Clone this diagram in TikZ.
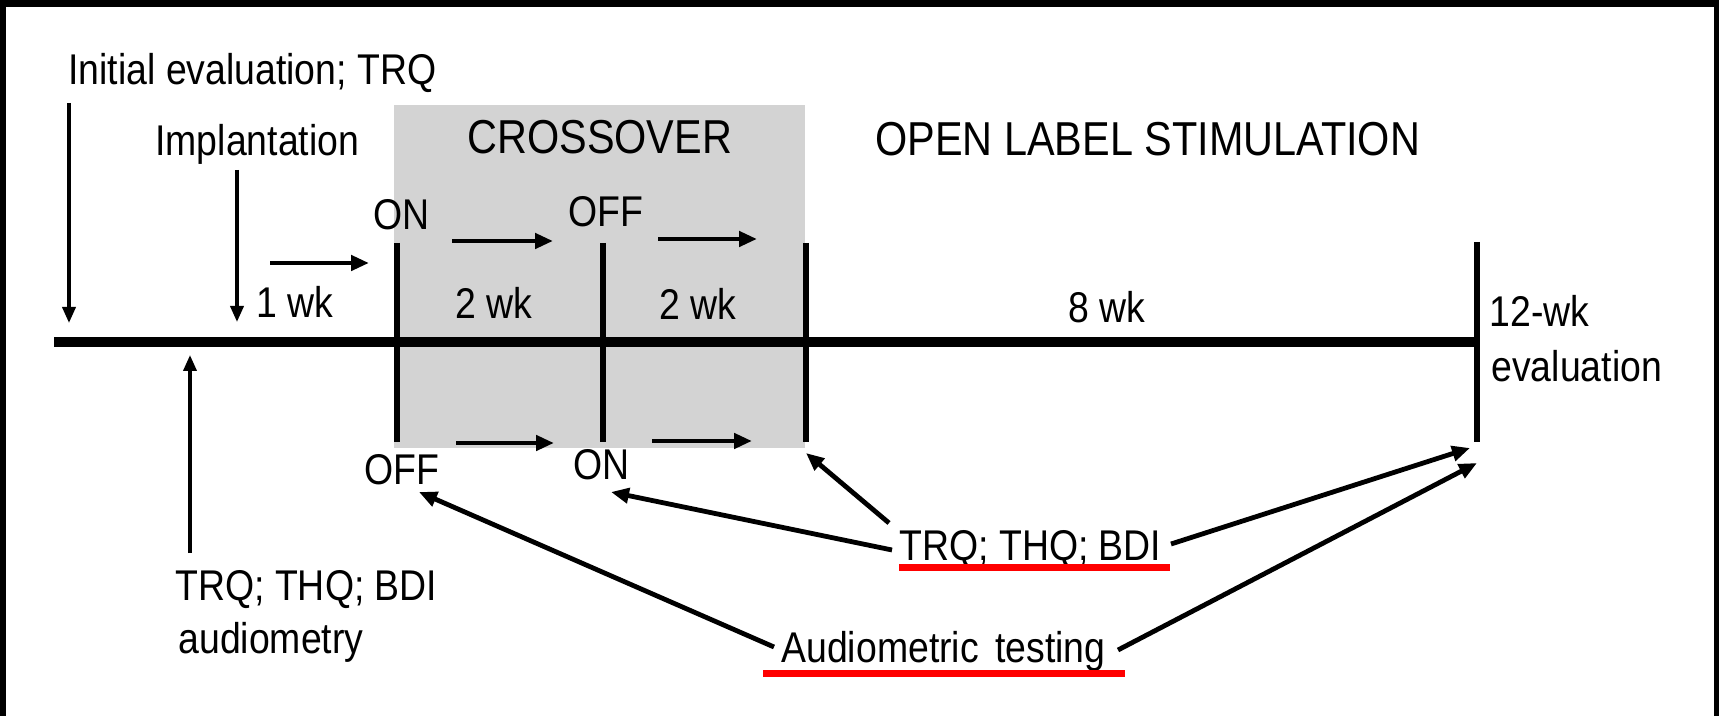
\documentclass[tikz,border=0pt]{standalone}
\usepackage{fontspec}
\setmainfont[FakeStretch=0.87]{Liberation Sans}
\usetikzlibrary{arrows.meta}
\definecolor{boxgray}{RGB}{211,211,211}
\definecolor{ulred}{RGB}{255,0,0}
\begin{document}
\begin{tikzpicture}[x=0.5pt,y=-0.5pt,
  lbl/.style={inner sep=0pt,anchor=base west,font=\fontsize{21.5}{24}\selectfont},
  head/.style={inner sep=0pt,anchor=base west,font=\fontsize{23.8}{26}\selectfont},
  arr/.style={line width=2.4pt,-{Triangle[length=9pt,width=7.5pt]}},
  varr/.style={line width=1.8pt,-{Triangle[length=8pt,width=6.5pt]}},
  tickline/.style={line width=3pt},
  uline/.style={line width=3.5pt,draw=ulred}]
% frame
\fill[black] (0,0) rectangle (1719,716);
\fill[white] (6,7) rectangle (1714,716);
\useasboundingbox (0,0) rectangle (1719,716);
% crossover box
\fill[boxgray] (394,105) rectangle (805,448);
% main timeline
\coordinate (lstart) at (54,342);
\coordinate (lend) at (1477,342);
\draw[line width=5pt] (lstart) -- (lend);
% ticks
\coordinate (t1a) at (397,243); \coordinate (t1b) at (397,442);
\coordinate (t2a) at (603,243); \coordinate (t2b) at (603,442);
\coordinate (t3a) at (806,243); \coordinate (t3b) at (806,442);
\coordinate (t4a) at (1477,242); \coordinate (t4b) at (1477,442);
\draw[tickline] (t1a) -- (t1b);
\draw[tickline] (t2a) -- (t2b);
\draw[tickline] (t3a) -- (t3b);
\draw[tickline] (t4a) -- (t4b);
% labels
\node[lbl] (init) at (68,85) {Initial evaluation; TRQ};
\node[lbl] (impl) at (155,156) {Implantation};
\node[head] (cross) at (467,154) {CROSSOVER};
\node[head] (open) at (875,156) {OPEN LABEL STIMULATION};
\node[lbl] (onT) at (373,230) {ON};
\node[lbl] (offT) at (568,227) {OFF};
\node[lbl] (wk1) at (256,318) {1 wk};
\node[lbl] (wk2a) at (455,319) {2 wk};
\node[lbl] (wk2b) at (659,320) {2 wk};
\node[lbl] (wk8) at (1068,323) {8 wk};
\node[lbl] (wk12) at (1489,327) {12-wk};
\node[lbl] (evalu) at (1491,382) {evaluation};
\node[lbl] (offB) at (364,485) {OFF};
\node[lbl] (onB) at (573,480) {ON};
\node[lbl] (baseA) at (175,600) {TRQ; THQ; BDI};
\node[lbl] (baseB) at (178,653) {audiometry};
\node[lbl] (midq) at (899,560) {TRQ; THQ; BDI};
\node[lbl] (audio) at (781,662) {Audiometric\hspace{3pt} testing};
% red underlines
\coordinate (u1a) at (899,567); \coordinate (u1b) at (1170,567);
\coordinate (u2a) at (763,673); \coordinate (u2b) at (1125,673);
\draw[uline] (u1a) -- (u1b);
\draw[uline] (u2a) -- (u2b);
% vertical arrows
\coordinate (a1s) at (69,103); \coordinate (a1e) at (69,323);
\coordinate (a2s) at (237,170); \coordinate (a2e) at (237,322);
\coordinate (a3s) at (190,553); \coordinate (a3e) at (190,355);
\draw[varr] (a1s) -- (a1e);
\draw[varr] (a2s) -- (a2e);
\draw[varr] (a3s) -- (a3e);
% horizontal period arrows
\coordinate (h0s) at (270,263); \coordinate (h0e) at (369,263);
\coordinate (h1s) at (452,241); \coordinate (h1e) at (553,241);
\coordinate (h2s) at (658,239); \coordinate (h2e) at (757,239);
\coordinate (h3s) at (456,443); \coordinate (h3e) at (554,443);
\coordinate (h4s) at (652,441); \coordinate (h4e) at (752,441);
\draw[arr] (h0s) -- (h0e);
\draw[arr] (h1s) -- (h1e);
\draw[arr] (h2s) -- (h2e);
\draw[arr] (h3s) -- (h3e);
\draw[arr] (h4s) -- (h4e);
% assessment arrows
\coordinate (m1) at (889,523); \coordinate (m1t) at (806,453);
\coordinate (m2) at (892,550); \coordinate (m2t) at (611,492);
\coordinate (m3) at (1171,544); \coordinate (m3t) at (1470,448);
\coordinate (b1) at (774,647); \coordinate (b1t) at (419,492);
\coordinate (b2) at (1118,650); \coordinate (b2t) at (1477,463);
\draw[arr] (m1) -- (m1t);
\draw[arr] (m2) -- (m2t);
\draw[arr] (m3) -- (m3t);
\draw[arr] (b1) -- (b1t);
\draw[arr] (b2) -- (b2t);
\end{tikzpicture}
\end{document}
